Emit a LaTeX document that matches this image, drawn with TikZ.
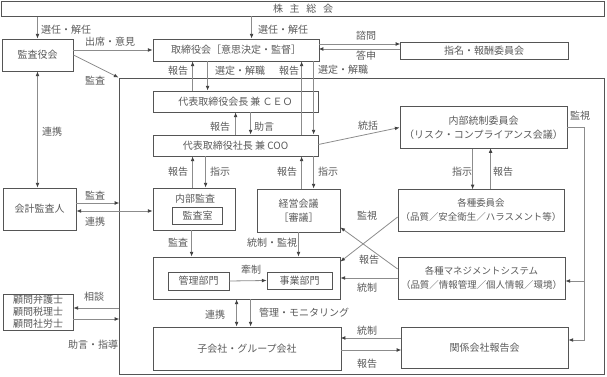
\documentclass[tikz,border=0pt]{standalone}
\usepackage{fontspec}
\setmainfont{Noto Sans CJK JP}
\usetikzlibrary{arrows.meta,calc,positioning}
\definecolor{ln}{RGB}{140,140,140}
\definecolor{bd}{RGB}{85,85,85}
\definecolor{tx}{RGB}{90,90,90}
\tikzset{pin/.style={draw=ln, line width=0.6pt, -{Latex[length=3.5pt,width=2.8pt,color=black!75]}},
  pinb/.style={draw=ln, line width=0.6pt, {Latex[length=3.5pt,width=2.8pt,color=black!75]}-{Latex[length=3.5pt,width=2.8pt,color=black!75]}},
  blk/.style={draw=bd, line width=0.6pt, text=tx, align=center, inner sep=1pt},
  lbl/.style={text=tx, inner sep=0pt},
  narrow/.style={font=\fontsize{7.1pt}{10.5pt}\selectfont}}

\begin{document}
\begin{tikzpicture}[x=0.75pt, y=-0.75pt, font=\fontsize{7.5pt}{10.5pt}\selectfont]
  \useasboundingbox (0,0) rectangle (607,377);
  \node[blk, minimum width=452pt, minimum height=11.25pt] (sh) at (303,9) {株\hspace{5pt}主\hspace{5pt}総\hspace{5pt}会};
  \node[blk, minimum width=53.25pt, minimum height=24pt] (kansa) at (37.5,55) {監査役会};
  \node[blk, minimum width=124.5pt, minimum height=16.5pt] (board) at (236,50) {取締役会［意思決定・監督］};
  \node[blk, minimum width=126pt, minimum height=12.75pt] (nomi) at (484,50.5) {指名・報酬委員会};
  % company frame
  \node[draw=bd, line width=0.7pt, minimum width=363.75pt, minimum height=222pt] (grp) at (361.5,226) {};
  \node[blk, minimum width=123.75pt, minimum height=15.75pt] (ceo) at (235.5,101.5) {代表取締役会長 兼 ＣＥＯ};
  \node[blk, minimum width=123.75pt, minimum height=15.75pt] (coo) at (235.5,145.5) {代表取締役社長 兼 COO};
  \node[blk, minimum width=125.25pt, minimum height=31.5pt] (naibu) at (483.5,127.5) {内部統制委員会\\（リスク・コンプライアンス会議）};
  \node[blk, narrow, minimum width=124.5pt, minimum height=31.5pt] (iin) at (481,210) {各種委員会\\（品質／安全衛生／ハラスメント等）};
  \node[blk, minimum width=61.5pt, minimum height=31.5pt] (audit) at (194,209) {};
  \node[lbl] (auditt) at (195,199) {内部監査};
  \node[blk, minimum width=37.5pt, minimum height=12.75pt] (room) at (197.5,215.5) {監査室};
  \node[blk, minimum width=62.25pt, minimum height=32.25pt] (keiei) at (298.5,210.5) {経営会議\\［審議］};
  \node[blk, minimum width=140.25pt, minimum height=31.5pt] (bumon) at (246.5,278) {};
  \node[blk, minimum width=45.75pt, minimum height=13.5pt] (kanri) at (198.5,281) {管理部門};
  \node[blk, minimum width=48.75pt, minimum height=12.75pt] (jigyo) at (299.5,280.5) {事業部門};
  \node[blk, narrow, minimum width=125.25pt, minimum height=31.5pt] (ms) at (481.5,278) {各種マネジメントシステム\\（品質／情報管理／個人情報／環境）};
  \node[blk, minimum width=141pt, minimum height=32.25pt] (ko) at (247,348.5) {子会社・グループ会社};
  \node[blk, minimum width=125.25pt, minimum height=30.75pt] (kankei) at (484.5,347.5) {関係会社報告会};
  \node[blk, minimum width=54.75pt, minimum height=31.5pt] (kaikei) at (39.5,209) {会計監査人};
  \node[blk, inner sep=0.5pt, font=\fontsize{7.5pt}{9pt}\selectfont, minimum width=52.5pt, minimum height=27pt] (komon) at (38,312) {顧問弁護士\\顧問税理士\\顧問社労士};
  % shareholders
  \draw[pin] (kansa.north |- sh.south) -- (kansa.north);
  \node[lbl] (t1) at (66,30) {選任・解任};
  \draw[pin] ($(board.north west)+(99,-22.5)$) -- ($(board.north west)+(99,0)$);
  \node[lbl] (t2) at (283,30) {選任・解任};
  % audit board
  \draw[pin] (kansa.east |- board.west) -- (board.west);
  \node[lbl] (t3) at (110,42) {出席・意見};
  \draw[pin] (kansa.east) -- (grp.north west);
  \node[lbl] (t4) at (95,81) {監査};
  \draw[pinb] (kansa.south) -- (kansa.south |- kaikei.north);
  \node[lbl] (t5) at (52,132) {連携};
  % nomination committee
  \draw[pin] ($(board.east)+(0,-6)$) -- ($(board.east)+(81,-6)$);
  \draw[pin] ($(nomi.west)+(0,-1.5)$) -- ($(nomi.west)+(-81,-1.5)$);
  \node[lbl] (t6) at (366,36) {諮問};
  \node[lbl] (t7) at (366,56) {答申};
  % board - CEO / COO
  \draw[pin] ($(ceo.north west)+(40,0)$) -- ($(board.south west)+(40,0)$);
  \draw[pin] ($(board.south west)+(55,0)$) -- ($(ceo.north west)+(55,0)$);
  \draw[pin] ($(coo.north west)+(149,0)$) -- ($(board.south west)+(149,0)$);
  \draw[pin] ($(board.south west)+(161,0)$) -- ($(coo.north west)+(161,0)$);
  \node[lbl] (t8) at (178,71) {報告};
  \node[lbl] (t9) at (240,71) {選定・解職};
  \node[lbl] (t10) at (289,71) {報告};
  \node[lbl] (t11) at (343,70) {選定・解職};
  % CEO - COO
  \draw[pin] ($(coo.north west)+(83,0)$) -- ($(ceo.south west)+(83,0)$);
  \draw[pin] ($(ceo.south west)+(98,0)$) -- ($(coo.north west)+(98,0)$);
  \node[lbl] (t12) at (220,127) {報告};
  \node[lbl] (t13) at (264,127) {助言};
  % internal control
  \draw[pin] ($(coo.east)+(0,-1)$) -- (naibu.west);
  \node[lbl] (t14) at (368,126) {統括};
  \coordinate (mv) at (584,127.5);
  \draw[pin] (naibu.east) -- (mv) |- ($(kankei.east)+(0,-7.5)$);
  \draw[pin] ($(mv |- ms.east)+(0,3)$) -- ($(ms.east)+(0,3)$);
  \node[lbl] (t15) at (580,116) {監視};
  \draw[pin] ($(naibu.south west)+(73,0)$) -- ++(0,40.5);
  \draw[pin] ($(iin.north west)+(93,0)$) -- ++(0,-40.5);
  \node[lbl] (t16) at (462,172) {指示};
  \node[lbl] (t17) at (503,172) {報告};
  % COO - audit / management meeting
  \draw[pin] ($(audit.north west)+(40,0)$) -- ($(coo.south west)+(40,0)$);
  \draw[pin] ($(coo.south west)+(53,0)$) -- ($(audit.north west)+(53,0)$);
  \draw[pin] ($(keiei.north west)+(45,0)$) -- ($(coo.south west)+(149,0)$);
  \draw[pin] ($(coo.south west)+(161,0)$) -- ($(keiei.north west)+(57,0)$);
  \node[lbl] (t18) at (178,172) {報告};
  \node[lbl] (t19) at (220,172) {指示};
  \node[lbl] (t20) at (287,172) {報告};
  \node[lbl] (t21) at (328,172) {指示};
  % departments
  \draw[pin] ($(audit.south west)+(39,0)$) -- ($(bumon.north west)+(39,0)$);
  \draw[pin] (keiei.south) -- (keiei.south |- bumon.north);
  \node[lbl] (t22) at (178,243) {監査};
  \node[lbl] (t23) at (272,243) {統制・監視};
  \draw[pin] (kanri.east) -- (jigyo.west);
  \node[lbl] (t24) at (251,270) {牽制};
  % committees and management systems
  \draw[pin] ($(iin.west)+(0,7)$) -- ($(bumon.north east)+(0,5)$);
  \draw[pin] ($(ms.west)+(0,-9)$) -- ($(keiei.south east)+(0,-5)$);
  \draw[pin] (ms.west) -- (ms.west -| bumon.east);
  \node[lbl] (t25) at (367,216) {監視};
  \node[lbl] (t26) at (369,260) {報告};
  \node[lbl] (t27) at (367,288) {統制};
  % group companies
  \draw[pinb] ($(bumon.south west)+(84,0)$) -- ($(ko.north west)+(84,0)$);
  \draw[pin] ($(bumon.south west)+(98,0)$) -- ($(ko.north west)+(98,0)$);
  \node[lbl] (t28) at (215,315) {連携};
  \node[lbl] (t29) at (304,313) {管理・モニタリング};
  \draw[pin] ($(kankei.west)+(0,-9.5)$) -- ++(-60,0);
  \draw[pin] ($(ko.east)+(0,1.5)$) -- ++(60,0);
  \node[lbl] (t30) at (367,331) {統制};
  \node[lbl] (t31) at (367,364) {報告};
  % auditor and advisers
  \draw[pin] ($(kaikei.east)+(0,-6)$) -- ++(43,0);
  \draw[pinb] ($(kaikei.east)+(0,2)$) -- ($(audit.west)+(0,2)$);
  \node[lbl] (t32) at (95,196) {監査};
  \node[lbl] (t33) at (95,222) {連携};
  \draw[pin] ($(komon.east)+(46,-4)$) -- ($(komon.east)+(0,-4)$);
  \draw[pin] ($(komon.east)+(0,7)$) -- ++(46,0);
  \node[lbl] (t34) at (94,297) {相談};
  \node[lbl] (t35) at (93,345) {助言・指導};
\end{tikzpicture}
\end{document}
